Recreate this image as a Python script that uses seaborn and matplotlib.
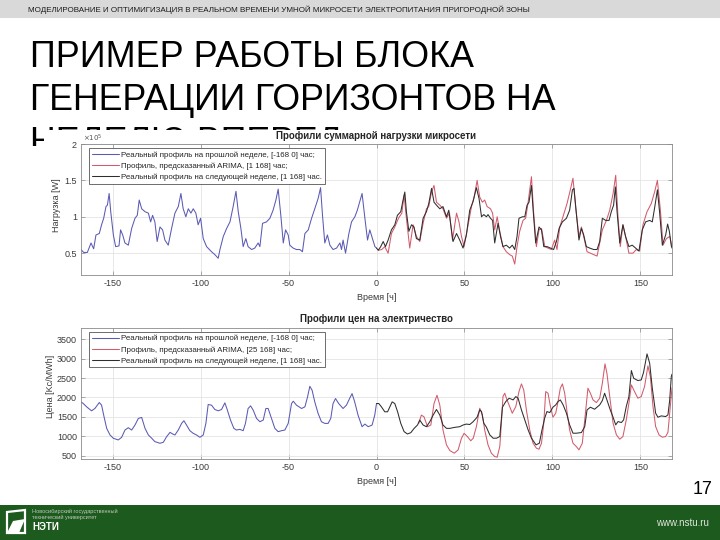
import matplotlib
matplotlib.use("Agg")
import matplotlib.pyplot as plt
import seaborn as sns
from matplotlib import font_manager
from matplotlib.patches import Rectangle, Polygon
from matplotlib.ticker import FuncFormatter

# ---------------- data ----------------
hours_ticks = [-150, -100, -50, 0, 50, 100, 150]
load_ticks = [0.5, 1, 1.5, 2]
price_ticks = [500, 1000, 1500, 2000, 2500, 3000, 3500]

# load, units of 1e5 W
load_past_t = [-168, -166.5, -164.4, -162.3, -160.8, -159.5, -157.6, -156.3, -155.1, -153.8, -153.0, -152.0,
               -151.1, -149.6, -148.3, -146.4, -145.5, -144.3, -143.0, -141.1, -139.2, -137.3, -136.0,
               -134.9, -133.5, -131.6, -129.7, -128.4, -127.3, -126.0, -124.7, -123.1, -121.6, -120.3,
               -118.4, -116.5, -114.6, -112.7, -111.2, -109.9, -108.4, -107.0, -105.5, -104.2, -102.7,
               -101.4, -100.0, -98.5, -96.6, -93.8, -91.9, -90.0, -89.0, -87.1, -85.2, -83.3, -81.5,
               -79.9, -78.6, -77.1, -75.8, -74.3, -73.0, -71.0, -69.2, -67.3, -66.3, -64.8, -62.5, -60.6,
               -58.8, -57.2, -55.9, -54.4, -53.0, -51.7, -50.2, -49.3, -47.4, -45.5, -43.6, -42.1, -40.7,
               -38.8, -36.9, -35.1, -33.2, -31.8, -30.7, -29.4, -27.9, -26.5, -24.7, -22.7, -20.8, -19.9,
               -19.0, -17.6, -15.7, -14.2, -12.3, -10.9, -9.5, -8.2, -6.6, -5.1, -3.8, -2.3, -0.9, 0]
load_past_v = [0.55, 0.51, 0.51, 0.64, 0.56, 0.75, 0.77, 0.89, 0.98, 1.14, 1.16, 1.32,
               1.07, 0.75, 0.59, 0.60, 0.82, 0.75, 0.64, 0.61, 0.84, 0.98, 1.02,
               1.23, 1.11, 1.07, 1.05, 0.93, 1.02, 0.93, 0.66, 0.86, 0.82, 0.68,
               0.61, 0.84, 1.05, 1.14, 1.32, 1.11, 1.00, 1.11, 1.05, 1.11, 1.05,
               0.89, 0.98, 0.70, 0.59, 0.52, 0.48, 0.43, 0.55, 0.73, 0.84, 0.93, 1.14,
               1.35, 1.07, 0.84, 0.59, 0.70, 0.59, 0.55, 0.57, 0.64, 0.59, 0.91, 0.93, 0.98,
               1.09, 1.23, 1.38, 1.02, 0.64, 0.82, 0.75, 0.61, 0.57, 0.55, 0.55, 0.52, 0.77,
               0.82, 0.98, 1.11, 1.25, 1.40, 1.02, 0.64, 0.75, 0.61, 0.55, 0.57, 0.64, 0.55,
               0.68, 0.50, 0.77, 0.93, 1.00, 1.09, 1.21, 1.32, 0.98, 0.68, 0.82, 0.70, 0.59, 0.57]

load_fc_t = [1.0, 3.0, 4.7, 6.6, 8.5, 10.4, 12.5, 14.4, 15.7, 17.0, 18.9, 20.8, 22.7, 24.6, 26.5, 28.4,
             29.7, 31.3, 32.7, 34.1, 36.0, 37.8, 39.8, 41.5, 43.2, 45.5, 46.9, 48.3, 49.8, 52.1, 54.0,
             55.5, 57.2, 58.7, 60.2, 61.5, 62.9, 64.8, 66.0, 67.2, 68.6, 70.1, 71.9, 73.8, 75.7, 77.2,
             78.6, 79.9, 81.4, 83.3, 84.8, 86.2, 88.1, 89.3, 90.9, 92.4, 93.8, 95.7, 97.5, 99.4, 101.3,
             102.6, 104.2, 106.0, 108.3, 110.2, 111.7, 113.2, 115.1, 116.5, 117.8, 119.7, 121.6, 123.5,
             125.4, 126.9, 128.4, 130.7, 132.6, 134.5, 136.0, 137.3, 138.6, 140.1, 141.6, 143.5, 145.8,
             147.7, 149.6, 151.5, 153.8, 156.2, 158.1, 159.7, 161.4, 162.9, 164.8, 166.7, 168.0]
load_fc_v = [0.54, 0.55, 0.59, 0.50, 0.77, 0.86, 0.98, 1.05, 1.30, 0.98, 0.57, 0.89, 0.73, 0.66, 0.91, 1.11,
             1.14, 1.34, 1.43, 1.20, 1.16, 1.11, 0.98, 1.05, 0.68, 1.05, 0.93, 0.73, 0.59, 0.89, 1.14,
             1.27, 1.50, 1.27, 1.20, 1.23, 1.14, 1.11, 1.05, 0.82, 1.00, 0.80, 0.59, 0.52, 0.48, 0.46,
             0.35, 0.59, 0.80, 0.95, 0.98, 1.20, 1.55, 1.07, 0.59, 0.82, 0.84, 0.59, 0.57, 0.55, 0.68,
             0.55, 0.86, 1.00, 1.18, 1.37, 1.53, 1.14, 0.73, 0.86, 0.73, 0.52, 0.50, 0.48,
             0.46, 0.64, 0.82, 0.95, 1.09, 1.32, 1.57, 1.00, 0.59, 0.89, 0.73, 0.50, 0.50,
             0.55, 0.53, 0.89, 1.07, 1.18, 1.34, 1.50, 1.09, 0.61, 0.70, 0.73, 0.59]

load_act_t = [0, 1.0, 2.4, 3.8, 5.1, 6.6, 8.5, 10.4, 11.9, 13.8, 15.1, 16.1, 17.0, 18.4, 19.9, 21.3, 22.7,
              24.6, 26.5, 28.4, 29.7, 31.3, 32.7, 34.1, 36.0, 37.8, 39.8, 41.1, 42.6, 43.5, 45.5, 47.3,
              49.2, 51.1, 53.0, 54.9, 56.8, 58.3, 59.7, 61.0, 62.5, 63.4, 64.8, 66.0, 67.2, 69.1, 70.5,
              71.9, 73.8, 75.7, 77.2, 78.6, 79.9, 81.0, 83.0, 84.3, 85.6, 86.7, 88.1, 89.0, 90.5, 92.4,
              93.8, 95.1, 97.0, 98.9, 100.7, 102.3, 103.8, 105.7, 108.0, 109.8, 111.4, 112.3, 113.6,
              115.1, 116.5, 117.8, 119.3, 121.2, 123.5, 125.4, 126.9, 128.4, 130.3, 132.2, 133.5, 134.8,
              135.8, 136.7, 138.3, 140.1, 141.6, 143.5, 145.4, 147.3, 149.2, 151.1, 153.0, 155.3, 156.8,
              158.1, 159.7, 161.0, 162.5, 164.4, 165.5, 166.5, 167.6, 168]
load_act_v = [0.57, 0.54, 0.59, 0.66, 0.59, 0.68, 0.82, 0.89, 1.02, 1.07, 1.23, 1.34, 1.07, 0.80, 0.89, 0.86, 0.70,
              0.68, 0.98, 1.07, 1.18, 1.39, 1.20, 1.16, 1.11, 1.14, 1.00, 1.09, 0.82, 0.66, 0.77, 0.68,
              0.57, 0.75, 1.09, 1.21, 1.40, 1.25, 1.00, 1.03, 1.00, 1.03, 0.98, 0.95, 0.64, 0.91, 0.73,
              0.59, 0.61, 0.57, 0.61, 0.55, 0.73, 0.98, 1.00, 1.00, 1.16, 1.20, 1.43, 1.11, 0.64, 0.86,
              0.82, 0.59, 0.59, 0.57, 0.55, 0.66, 0.84, 0.93, 0.98, 1.09, 1.37, 1.39, 1.05,
              0.68, 0.84, 0.75, 0.59, 0.57, 0.55, 0.55, 0.66, 0.98, 0.95, 0.95, 1.07, 1.16,
              1.41, 1.09, 0.64, 0.89, 0.73, 0.59, 0.61, 0.57, 0.53, 0.82, 0.93, 0.95, 0.93,
              1.12, 1.37, 1.05, 0.61, 0.75, 0.90, 0.80, 0.60, 0.57]

# price, Kc/MWh
price_past_t = [-168, -166.7, -164.8, -162.0, -160.1, -157.6, -156.3, -154.9, -153.4, -151.5, -149.6, -146.8,
                -144.9, -143.0, -141.1, -139.2, -137.3, -135.4, -133.5, -131.6, -129.7, -127.8, -126.0,
                -123.1, -121.2, -119.3, -117.4, -115.9, -114.6, -112.7, -110.8, -109.5, -108.0, -106.1,
                -104.2, -102.3, -100.4, -98.5, -97.0, -95.7, -93.8, -91.9, -90.0, -88.1, -86.2, -84.9,
                -83.0, -81.1, -79.6, -77.7, -75.8, -74.5, -73.0, -71.6, -70.1, -68.2, -66.3, -64.4, -62.9,
                -61.6, -59.7, -57.8, -55.9, -54.0, -52.1, -50.2, -48.3, -47.3, -45.5, -42.6, -40.7, -39.2,
                -37.9, -36.6, -35.1, -33.2, -31.3, -29.4, -27.5, -26.0, -24.7, -23.3, -21.5, -19.0, -17.1,
                -15.3, -13.9, -12.4, -10.5, -8.2, -6.6, -4.7, -2.5, -1.0, 0]
price_past_v = [1885, 1842, 1757, 1654, 1714, 1868, 1800, 1500, 1201, 1030, 945, 902,
                970, 1158, 1218, 1158, 1287, 1458, 1483, 1201, 1030, 945, 859,
                816, 842, 987, 1098, 1056, 1030, 1158, 1329, 1398, 1287, 1141,
                1073, 1030, 970, 1030, 1329, 1817, 1800, 1688, 1654, 1688, 1860, 1688,
                1415, 1201, 1158, 1175, 1141, 1329, 1714, 1782, 1671, 1458, 1372, 1415, 1714,
                1714, 1458, 1201, 1116, 1141, 1158, 1329, 1842, 1902, 1800, 1714, 1757, 2013,
                2287, 2184, 1885, 1586, 1372, 1329, 1329, 1458, 1842, 1971, 1842, 1714, 1800,
                1971, 2099, 1885, 1543, 1244, 1312, 1244, 1287, 1543, 1842]

price_fc_t = [24.0, 25.5, 27.0, 29.0, 30.9, 32.7, 34.4, 36.0, 37.8, 39.8, 41.7, 44.2, 46.4, 48.3, 49.8,
              51.7, 53.6, 55.0, 56.8, 58.7, 60.2, 61.5, 63.4, 65.3, 67.2, 68.6, 70.1, 71.0, 71.9, 72.9,
              74.2, 75.7, 77.2, 79.2, 81.0, 82.4, 83.7, 85.2, 87.1, 89.0, 90.9, 92.4, 93.8, 95.1, 96.2,
              97.5, 98.9, 100.3, 101.9, 103.2, 104.5, 105.7, 107.0, 108.3, 109.8, 111.7, 113.6, 115.1,
              117.0, 118.4, 120.2, 121.6, 123.1, 125.0, 126.9, 128.4, 129.9, 131.0, 132.6, 134.5, 136.4,
              138.3, 140.1, 142.0, 143.5, 144.9, 146.7, 148.6, 150.5, 152.4, 154.3, 155.7, 157.2, 158.7,
              160.6, 162.5, 164.4, 165.7, 166.7, 168.0]
price_fc_v = [1329, 1543, 1500, 1244, 1287, 1842, 2056, 1800, 1158, 774, 628, 560, 645, 945, 1073,
              987, 880, 947, 1248, 1721, 1549, 1162, 775, 560, 474, 457, 732, 1334, 2022, 2108,
              1936, 1764, 1592, 1764, 2151, 2349, 2194, 1678, 1162, 818, 689, 663, 818, 1334, 2151,
              2108, 1764, 1489, 1592, 1893, 2237, 2349, 2108, 1635, 1162, 818, 732, 646,
              818, 1420, 2237, 2108, 1936, 1867, 1979, 2366, 2865, 2624, 2022, 1334, 1033,
              921, 990, 1420, 1850, 2323, 2151, 1979, 2022, 2280, 2813, 2538, 1764, 1248,
              1033, 973, 990, 1100, 1600, 2250]

price_act_t = [0, 1.3, 2.8, 4.7, 6.3, 7.6, 8.9, 10.4, 12.0, 13.8, 15.7, 17.6, 19.5, 21.4, 23.3, 24.6, 26.5,
               28.4, 30.3, 32.2, 34.1, 36.0, 37.8, 39.8, 41.7, 44.5, 47.3, 49.2, 51.1, 53.0, 54.9, 57.2,
               58.7, 59.7, 61.0, 62.5, 64.4, 66.3, 68.2, 70.1, 71.6, 73.5, 75.4, 77.7, 79.2, 80.5, 82.4,
               84.3, 86.2, 88.1, 90.7, 92.6, 94.1, 95.6, 96.9, 98.5, 100.3, 101.9, 103.2, 104.5, 106.1,
               108.0, 109.8, 111.7, 113.6, 116.5, 118.4, 119.7, 121.6, 124.0, 126.9, 128.4, 129.7, 131.0,
               132.9, 134.5, 136.0, 137.3, 139.2, 140.5, 142.0, 143.5, 144.9, 146.2, 148.6, 150.5, 151.8,
               153.8, 155.3, 156.8, 158.7, 160.0, 161.9, 164.4, 165.7, 166.7, 167.6, 168]
price_act_v = [1842, 1842, 1757, 1629, 1629, 1757, 1885, 1842, 1629, 1329, 1116, 1056, 1090, 1201, 1287, 1415, 1287,
               1244, 1372, 1543, 1688, 1543, 1287, 1201, 1201, 1227, 1244, 1287, 1312, 1300, 1372, 1489,
               1678, 1635, 1334, 1231, 1033, 947, 947, 990, 1747, 1893, 1979, 1936, 2022, 1979, 1678,
               1420, 1162, 947, 775, 818, 1162, 1463, 1635, 1609, 1747, 1807, 1893, 1936, 1807,
               1592, 1291, 1076, 1076, 1093, 1248, 1678, 1747, 1695, 1807, 1919, 2108, 1936,
               1678, 1489, 1291, 1377, 1351, 1420, 1764, 2022, 2693, 2495, 2435, 2452, 2641,
               3123, 2882, 2237, 1592, 1489, 1523, 1506, 1549, 1936, 2538, 2600]

load_labels = ["Реальный профиль на прошлой неделе, [-168 0] час;",
               "Профиль, предсказанный ARIMA, [1 168] час;",
               "Реальный профиль на следующей неделе, [1 168] час."]
price_labels = ["Реальный профиль на прошлой неделе, [-168 0] час;",
                "Профиль, предсказанный ARIMA, [25 168] час;",
                "Реальный профиль на следующей неделе, [1 168] час."]

header_text = "МОДЕЛИРОВАНИЕ И ОПТИМИГИЗАЦИЯ В РЕАЛЬНОМ ВРЕМЕНИ УМНОЙ МИКРОСЕТИ ЭЛЕКТРОПИТАНИЯ ПРИГОРОДНОЙ ЗОНЫ"
title_lines = ["ПРИМЕР РАБОТЫ БЛОКА", "ГЕНЕРАЦИИ ГОРИЗОНТОВ НА", "НЕДЕЛЮ ВПЕРЕД"]

# ---------------- style ----------------
sns.set_style("white")
names = {f.name for f in font_manager.fontManager.ttflist}
BASE = "Liberation Sans" if "Liberation Sans" in names else "DejaVu Sans"
NARROW = "Liberation Sans Narrow" if "Liberation Sans Narrow" in names else BASE
plt.rcParams["font.family"] = [BASE, "DejaVu Sans"]
plt.rcParams["axes.unicode_minus"] = False

BLUE, RED, BLACK = "#5a5ab4", "#d35a6c", "#2e2e2e"
W, H = 720, 540
fig = plt.figure(figsize=(7.2, 5.4), dpi=100)
fig.patch.set_facecolor("white")


def fx(px):
    return px / W


def fy(py):
    return 1 - py / H


renderer = fig.canvas.get_renderer()


def fit_text(x, y, s, target_w, family, size0=10, **kw):
    t = fig.text(fx(x), fy(y), s, fontsize=size0, family=family, **kw)
    w = t.get_window_extent(renderer=renderer).width
    t.set_fontsize(size0 * target_w / w)
    return t


# header band
fig.patches.append(Rectangle((0, fy(18)), 1, 18 / H, transform=fig.transFigure,
                             facecolor="#d9d9d9", edgecolor="none", zorder=0))
fit_text(28, 9.5, header_text, 505, [NARROW, "DejaVu Sans"], va="center", ha="left",
         color="#1a1a1a", zorder=1)

# big title (third line is partly hidden behind the chart picture, as on the slide)
t1 = fit_text(30, 67, title_lines[0], 443, [NARROW, "DejaVu Sans"], size0=28, va="baseline",
              ha="left", color="black", zorder=1)
t2 = fit_text(30, 110.5, title_lines[1], 527, [NARROW, "DejaVu Sans"], size0=28, va="baseline",
              ha="left", color="black", zorder=1)
fig.text(fx(30), fy(153), title_lines[2], fontsize=(t1.get_fontsize() + t2.get_fontsize()) / 2,
         family=[NARROW, "DejaVu Sans"], va="baseline", ha="left", color="black", zorder=1)

# white backdrop of the chart picture
fig.patches.append(Rectangle((fx(44), fy(497)), (700 - 44) / W, (497 - 130) / H,
                             transform=fig.transFigure, facecolor="white", edgecolor="none", zorder=2))
fig.patches.append(Rectangle((fx(29), fy(497)), 15 / W, (497 - 146) / H,
                             transform=fig.transFigure, facecolor="white", edgecolor="none", zorder=2))

# footer
fig.patches.append(Rectangle((0, 0), 1, 35 / H, transform=fig.transFigure,
                             facecolor="#1d5a1d", edgecolor="none", zorder=1))
fig.patches.append(Polygon([(fx(7), fy(512)), (fx(25), fy(510)), (fx(25), fy(533)), (fx(7), fy(533))],
                           closed=True, transform=fig.transFigure, facecolor="none",
                           edgecolor="white", lw=1.6, zorder=3))
fig.patches.append(Polygon([(fx(7), fy(533)), (fx(13), fy(521)), (fx(25), fy(519)), (fx(19), fy(533))],
                           closed=True, transform=fig.transFigure, facecolor="white",
                           edgecolor="none", zorder=3))
fig.text(fx(32), fy(511), "Новосибирский государственный", fontsize=4, color="#bfc9bf", va="center", zorder=3)
fig.text(fx(32), fy(517.5), "технический университет", fontsize=4, color="#bfc9bf", va="center", zorder=3)
fig.text(fx(32), fy(527.5), "НЭТИ", fontsize=7, color="white", fontweight="bold", va="center", zorder=3)
fig.text(fx(709), fy(523), "www.nstu.ru", fontsize=7, color="#dfe6df", va="center", ha="right", zorder=3)
fig.text(fx(712), fy(489), "17", fontsize=13, color="black", va="center", ha="right", zorder=3)

# ---------------- axes ----------------
ax1 = fig.add_axes([fx(81), fy(275), 591 / W, 131 / H])
ax2 = fig.add_axes([fx(81), fy(459), 591 / W, 131.3 / H])

for ax, (tp, vp), (tf, vf), (ta, va_), labels in [
    (ax1, (load_past_t, load_past_v), (load_fc_t, load_fc_v), (load_act_t, load_act_v), load_labels),
    (ax2, (price_past_t, price_past_v), (price_fc_t, price_fc_v), (price_act_t, price_act_v), price_labels),
]:
    ax.set_zorder(5)
    sns.lineplot(x=tp, y=vp, ax=ax, color=BLUE, lw=0.75, label=labels[0], estimator=None, sort=False)
    sns.lineplot(x=tf, y=vf, ax=ax, color=RED, lw=0.75, label=labels[1], estimator=None, sort=False)
    sns.lineplot(x=ta, y=va_, ax=ax, color=BLACK, lw=0.75, label=labels[2], estimator=None, sort=False)
    ax.set_xlim(-168, 168)
    ax.set_xticks(hours_ticks)
    ax.grid(True, color="#e4e4e4", lw=0.6)
    ax.set_axisbelow(True)
    for sp in ax.spines.values():
        sp.set_visible(True)
        sp.set_color("#8a8a8a")
        sp.set_linewidth(0.6)
    ax.tick_params(direction="in", length=3, width=0.5, colors="#8a8a8a", labelcolor="#3a3a3a",
                   labelsize=6.5, top=True, right=True, bottom=True, left=True, pad=3)
    ax.set_xlabel("Время [ч]", fontsize=6.5, color="#3a3a3a")
    ax.xaxis.set_label_coords(0.5, -0.14)
    leg = ax.legend(loc="upper left", bbox_to_anchor=(0.0135, 0.966), borderaxespad=0, fontsize=5.7,
                    frameon=True, fancybox=False, framealpha=1, edgecolor="#555555",
                    handlelength=3.4, handletextpad=0.35, borderpad=0.35, labelspacing=0.45)
    leg.get_frame().set_linewidth(0.6)

ax1.set_ylim(0.2, 2.0)
ax1.set_yticks(load_ticks)
ax1.yaxis.set_major_formatter(FuncFormatter(lambda v, p: f"{v:g}"))
ax1.set_ylabel("Нагрузка [W]", fontsize=6.5, color="#3a3a3a")
ax1.yaxis.set_label_coords(-0.033, 0.53)
ax1.set_title("Профили суммарной нагрузки микросети", fontsize=7, fontweight="bold", pad=3.5)
ax1.text(0.003, 1.0, r"$\times10^5$", transform=ax1.transAxes, fontsize=5, color="#555555",
         va="bottom", ha="left")

ax2.set_ylim(410, 3800)
ax2.set_yticks(price_ticks)
ax2.set_ylabel("Цена [Kc/MWh]", fontsize=6.5, color="#3a3a3a")
ax2.yaxis.set_label_coords(-0.044, 0.55)
ax2.set_title("Профили цен на электричество", fontsize=7, fontweight="bold", pad=4)

fig.savefig("out.png", dpi=100)
